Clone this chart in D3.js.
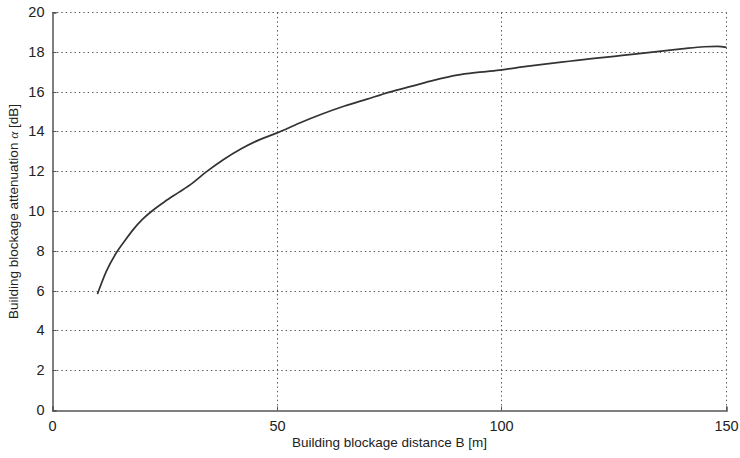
<!DOCTYPE html>
<html>
<head>
<meta charset="utf-8">
<script src="https://cdn.jsdelivr.net/npm/d3@7"></script>
<style>
  body { margin: 0; background: #fff; }
  text { font-family: "Liberation Sans", Arial, sans-serif; fill: #222; }
</style>
</head>
<body>
<svg id="chart" width="740" height="458"></svg>
<script>
const distanceB = [10, 12, 14, 16, 18, 20, 22, 25, 28, 31, 34, 38, 42, 46, 50, 55, 60, 65, 70, 75, 80, 85, 90, 95, 100, 105, 110, 115, 120, 125, 130, 135, 140, 145, 148, 150];
const attenuation = [5.85, 7.0, 7.85, 8.5, 9.1, 9.6, 10.0, 10.5, 10.95, 11.4, 11.95, 12.6, 13.15, 13.6, 13.95, 14.45, 14.9, 15.3, 15.65, 16.0, 16.3, 16.6, 16.85, 17.0, 17.12, 17.28, 17.42, 17.55, 17.68, 17.8, 17.92, 18.05, 18.17, 18.28, 18.3, 18.25];
const xTicks = [0, 50, 100, 150];
const yTicks = [0, 2, 4, 6, 8, 10, 12, 14, 16, 18, 20];
const xLabel = "Building blockage distance B [m]";
const yLabelParts = ["Building blockage attenuation ", "α", " [dB]"];

const svg = d3.select("#chart");
const pLeft = 52.5, pRight = 726.5, pTop = 12.5, pBottom = 410.5;
const x = d3.scaleLinear().domain([0, 150]).range([pLeft, pRight]);
const y = d3.scaleLinear().domain([0, 20]).range([pBottom, pTop]);
const snap = v => Math.round(v - 0.5) + 0.5;

// grid
const grid = svg.append("g").attr("stroke", "#555").attr("stroke-width", 1).attr("stroke-dasharray", "1.4,3");
grid.selectAll("line.h").data(yTicks.filter(d => d > 0)).enter().append("line")
  .attr("x1", pLeft).attr("x2", pRight).attr("y1", d => snap(y(d))).attr("y2", d => snap(y(d)));
grid.selectAll("line.v").data(xTicks.filter(d => d > 0)).enter().append("line")
  .attr("y1", pTop).attr("y2", pBottom).attr("x1", d => snap(x(d))).attr("x2", d => snap(x(d)));

// axes
const xAxis = d3.axisBottom(x).tickValues(xTicks).tickSize(-4).tickPadding(8);
const yAxis = d3.axisLeft(y).tickValues(yTicks).tickSize(-4).tickPadding(8);
const gx = svg.append("g").attr("transform", `translate(0,${pBottom})`).call(xAxis);
const gy = svg.append("g").attr("transform", `translate(${pLeft},0)`).call(yAxis);
[gx, gy].forEach(g => {
  g.select(".domain").attr("stroke", "#555").attr("stroke-width", 1.5);
  g.selectAll(".tick line").attr("stroke", "#555");
  g.selectAll(".tick text").attr("font-size", 14.5).attr("fill", "#222")
    .attr("font-family", "Liberation Sans, Arial, sans-serif");
});
gy.selectAll(".tick").attr("transform", d => `translate(0,${snap(y(d))})`);
gx.selectAll(".tick").attr("transform", d => `translate(${snap(x(d))},0)`);
gx.selectAll(".tick text").attr("dy", "0.85em");

// curve
const line = d3.line().x((d, i) => x(distanceB[i])).y(d => y(d)).curve(d3.curveMonotoneX);
svg.append("path").datum(attenuation).attr("d", line)
  .attr("fill", "none").attr("stroke", "#333").attr("stroke-width", 1.7);

// labels
svg.append("text").attr("x", (pLeft + pRight) / 2).attr("y", 447).attr("text-anchor", "middle")
  .attr("font-size", 13.5).text(xLabel);
const yl = svg.append("text").attr("transform", `translate(18,${(pTop + pBottom) / 2}) rotate(-90)`)
  .attr("text-anchor", "middle").attr("font-size", 13.5);
yl.append("tspan").text(yLabelParts[0]);
yl.append("tspan").attr("font-style", "italic").attr("font-family", "Liberation Serif, serif").text(yLabelParts[1]);
yl.append("tspan").text(yLabelParts[2]);
</script>
</body>
</html>
